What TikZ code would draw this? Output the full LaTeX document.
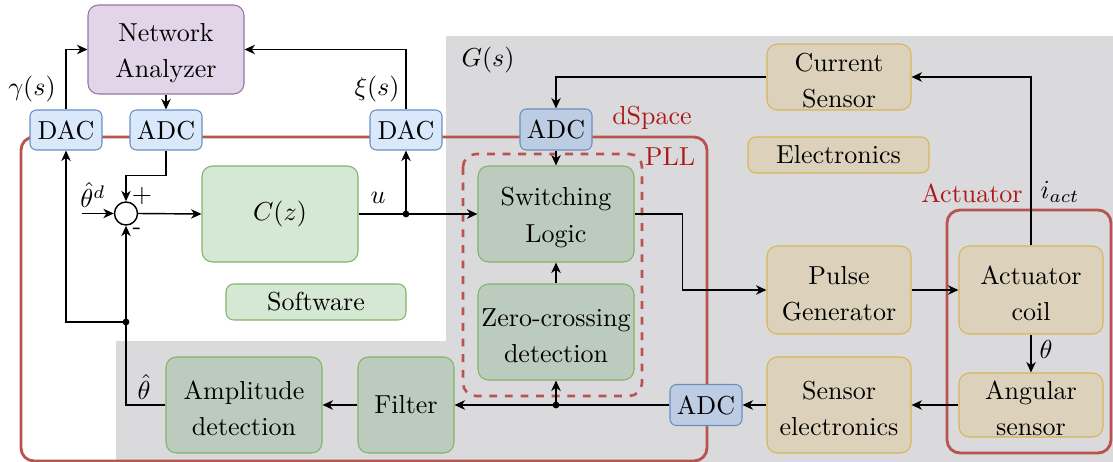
\documentclass[tikz,border=0pt]{standalone}
\usetikzlibrary{arrows.meta}
\definecolor{purpF}{HTML}{E1D5E7}
\definecolor{purpD}{HTML}{9673A6}
\definecolor{blueF}{HTML}{DAE8FC}
\definecolor{blueD}{HTML}{6C8EBF}
\definecolor{blueG}{RGB}{188,204,226}
\definecolor{greenF}{HTML}{D5E8D4}
\definecolor{greenD}{HTML}{82B366}
\definecolor{greenG}{RGB}{187,203,190}
\definecolor{tanF}{RGB}{220,210,187}
\definecolor{tanD}{HTML}{D6B656}
\definecolor{redL}{HTML}{B85450}
\definecolor{redT}{RGB}{172,24,24}
\definecolor{gbg}{RGB}{218,218,221}
\newcommand\fl{\rule{0pt}{9.8pt}}
\begin{document}
\begin{tikzpicture}[x=0.3846pt,y=-0.3846pt,font=\fontsize{10}{14}\selectfont,
  blk/.style={draw, rounded corners=4pt, align=center, inner sep=0pt, line width=0.4pt},
  sz/.style 2 args={minimum width=#1*0.3846pt, minimum height=#2*0.3846pt},
  purp/.style={blk, fill=purpF, draw=purpD},
  conv/.style={blk, rounded corners=2.5pt, fill=blueF, draw=blueD, sz={72}{40}},
  convg/.style={blk, rounded corners=2.5pt, fill=blueG, draw=blueD, sz={72}{41}},
  sw/.style={blk, fill=greenF, draw=greenD},
  swg/.style={blk, fill=greenG, draw=greenD},
  hw/.style={blk, fill=tanF, draw=tanD},
  grp/.style={draw=redL, line width=1.1pt, rounded corners=5pt},
  lab/.style={inner sep=0pt},
  redtext/.style={inner sep=0pt, text=redT},
  arr/.style={-{Stealth[length=4pt,width=3.6pt,inset=1.2pt]}, line width=0.55pt},
  dot/.style={circle, fill=black, inner sep=0pt, minimum size=2.6pt}]
\useasboundingbox (0,0) rectangle (1113,462);
% grey plant area
\fill[gbg] (446,36) -- (1113,36) -- (1113,462) -- (116,462) -- (116,341) -- (446,341) -- cycle;
% group frames
\draw[grp] (21,137) rectangle (707,461);
\draw[grp, dashed, line width=1pt] (463,154) rectangle (642,396);
\draw[grp] (947,210) rectangle (1111,453);
% nodes
\node[purp, sz={156}{89}] (na) at (166,49.5) {\fl Network\\Analyzer};
\node[conv] (dacL) at (66,130) {DAC};
\node[conv] (adc1) at (166,130) {ADC};
\node[conv] (dacR) at (406,130) {DAC};
\node[convg] (adc2) at (556,129.5) {ADC};
\node[convg] (adc3) at (706,405) {ADC};
\node[circle, draw, fill=white, line width=0.55pt, minimum size=23*0.3846pt, inner sep=0pt] (sum) at (126,213.5) {};
\node[sw, sz={156}{96}] (cz) at (280,214) {$C(z)$};
\node[sw, rounded corners=3pt, sz={180}{36}] (soft) at (316,302) {Software};
\node[swg, sz={156}{96}] (sl) at (556,214) {\fl Switching\\Logic};
\node[swg, sz={156}{96}] (zc) at (556,332) {\fl Zero-crossing\\detection};
\node[swg, sz={156}{96}] (amp) at (244,405) {\fl Amplitude\\detection};
\node[swg, sz={96}{96}] (filt) at (406,405) {Filter};
\node[hw, sz={144}{66}] (cs) at (839,77) {\fl Current\\Sensor};
\node[hw, rounded corners=3pt, sz={181}{36}] (elec) at (838.5,155) {Electronics};
\node[hw, sz={144}{88}] (pg) at (839,290) {\fl Pulse\\Generator};
\node[hw, sz={144}{96}] (se) at (839,405) {\fl Sensor\\electronics};
\node[hw, sz={144}{88}] (coil) at (1031,290) {\fl Actuator\\coil};
\node[hw, sz={144}{64}] (as) at (1031,405) {\fl Angular\\sensor};
% labels
\node[lab] (lgam) at (32,89) {$\gamma(s)$};
\node[lab] (lxi) at (377,89) {$\xi(s)$};
\node[lab] (lthd) at (93,195) {$\hat\theta^d$};
\node[lab] (lplus) at (142,196) {$+$};
\node[lab] (lminus) at (137,231) {-};
\node[lab] (lu) at (378,198) {$u$};
\node[lab] (lthh) at (144,387) {$\hat\theta$};
\node[lab] (lth) at (1046,349) {$\theta$};
\node[lab] (liact) at (1060,192) {$i_{act}$};
\node[redtext] (lact) at (972,193) {Actuator};
\node[lab] (lG) at (488,60) {$G(s)$};
\node[redtext] (lds) at (652,118) {dSpace};
\node[redtext] (lpll) at (670,157) {PLL};
% junctions
\coordinate (thdin) at (82,213.5);
\coordinate (j1) at (406,214);
\coordinate (j2) at (126,322);
\coordinate (j3) at (556,405);
% connectors
\draw[arr] (dacL.north) |- (na.west);
\draw[arr] (dacR.north) |- (na.east);
\draw[arr] (na.south) -- (adc1.north);
\draw[arr] (adc1.south) -- ++(0,25) -| (sum.north);
\draw[arr] (thdin) -- (sum.west);
\draw[arr] (sum.east) -- (cz.west);
\draw[arr] (cz.east) -- (sl.west);
\draw[arr] (j1) -- (dacR.south);
\draw[arr] (amp.west) -| (sum.south);
\draw[arr] (j2) -| (dacL.south);
\draw[arr] (filt.west) -- (amp.east);
\draw[arr] (adc3.west) -- (filt.east);
\draw[arr] (j3) -- (zc.south);
\draw[arr] (zc.north) -- (sl.south);
\draw[arr] (adc2.south) -- (sl.north);
\draw[arr] (cs.west) -| (adc2.north);
\draw[arr] (coil.north) |- (cs.east);
\draw[arr] (sl.east) -- ++(48,0) |- (pg.west);
\draw[arr] (pg.east) -- (coil.west);
\draw[arr] (coil.south) -- (as.north);
\draw[arr] (as.west) -- (se.east);
\draw[arr] (se.west) -- (adc3.east);
\node[dot] at (j1) {};
\node[dot] at (j2) {};
\node[dot] at (j3) {};
\end{tikzpicture}
\end{document}
